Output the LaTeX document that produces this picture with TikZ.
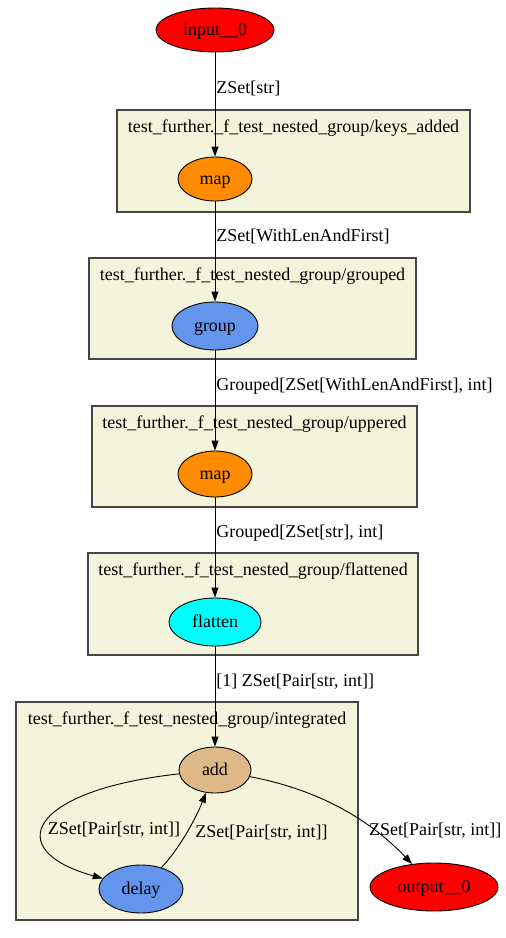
\documentclass[tikz,border=0pt]{standalone}
\usepackage{fontspec}
\setmainfont{Liberation Serif}
\usepackage{tikz}
\usetikzlibrary{arrows.meta,shapes}
\definecolor{darkorange}{RGB}{255,140,0}
\definecolor{cornflower}{RGB}{100,149,237}
\definecolor{burlywood}{RGB}{222,184,135}
\definecolor{aqua}{RGB}{0,255,255}
\definecolor{clusterfill}{RGB}{244,244,220}
\definecolor{clusterline}{RGB}{70,70,70}
\tikzstyle{cluster}=[rectangle,draw=clusterline,fill=clusterfill,line width=1.4pt,inner sep=0pt]
\tikzstyle{clusterlabel}=[inner sep=0pt,text height=13pt,text depth=3pt,font=\fontsize{18}{20}\selectfont]
\tikzstyle{vertex}=[ellipse,draw,line width=0.9pt,inner sep=0pt,text height=13pt,text depth=3pt,font=\fontsize{18}{20}\selectfont]
\tikzstyle{edge} = [draw,line width=0.9pt,-{Triangle[length=10pt,width=7pt]}]
\tikzstyle{weight} = [inner sep=1pt,text height=13pt,text depth=3pt,font=\fontsize{18}{20}\selectfont]

\begin{document}
\begin{tikzpicture}[x=1pt, y=-1pt]

    \useasboundingbox (0,0) rectangle (506,938);

    \foreach \x/\y/\w/\h/\name/\txt in {293.5/161/353/102/keys/keys\_added, 252.5/308.5/327/101/grouped/grouped,
        254.5/456.5/325/101/uppered/uppered, 253/604/330/102/flattened/flattened, 187/811/342/218/integrated/integrated}
    {
        \node[cluster, minimum width=\w pt, minimum height=\h pt] (\name) at (\x, \y) {};
        \node[clusterlabel] (\name label) at ([yshift=-18pt]\name.north) {test\_further.\_f\_test\_nested\_group/\txt};
    }

     \foreach \x/\y/\w/\h/\name/\col/\txt in {215/30/118/44/input/red/input\_\_0, 215/179/74/44/keysmap/darkorange/map,
        215/326/86/48/group/cornflower/group, 215/474/74/46/uppermap/darkorange/map,
        215/622/92/48/flatten/aqua/flatten, 215/770/72/46/add/burlywood/add,
        141/889/84/48/delay/cornflower/delay, 434/887/128/48/output/red/output\_\_0}
        \node[vertex, fill=\col, minimum width=\w pt, minimum height=\h pt] (\name) at (\x, \y) {\txt};

    \foreach \source/ \dest /\weight in {input/keysmap/{ZSet[str]}, keysmap/group/{ZSet[WithLenAndFirst]},
        group/uppermap/{Grouped[ZSet[WithLenAndFirst], int]}, uppermap/flatten/{Grouped[ZSet[str], int]},
        flatten/add/{[1] ZSet[Pair[str, int]]}}
        \path[edge] (\source) -- node[weight, pos=0.35, anchor=west] (w\source) {\weight} (\dest);

    \path[edge] (add) .. controls (30,790) and (0,850) .. node[weight, pos=0.5, anchor=west, yshift=-8pt] (wadd) {ZSet[Pair[str, int]]} (delay);
    \path[edge] (delay) .. controls (180,848) and (196,818) .. node[weight, pos=0.5, anchor=west, xshift=7pt] (wdelay) {ZSet[Pair[str, int]]} (add);
    \path[edge] (add) .. controls (320,790) and (370,820) .. node[weight, pos=0.72, anchor=west, xshift=-7pt] (wout) {ZSet[Pair[str, int]]} (output);

\end{tikzpicture}
\end{document}
